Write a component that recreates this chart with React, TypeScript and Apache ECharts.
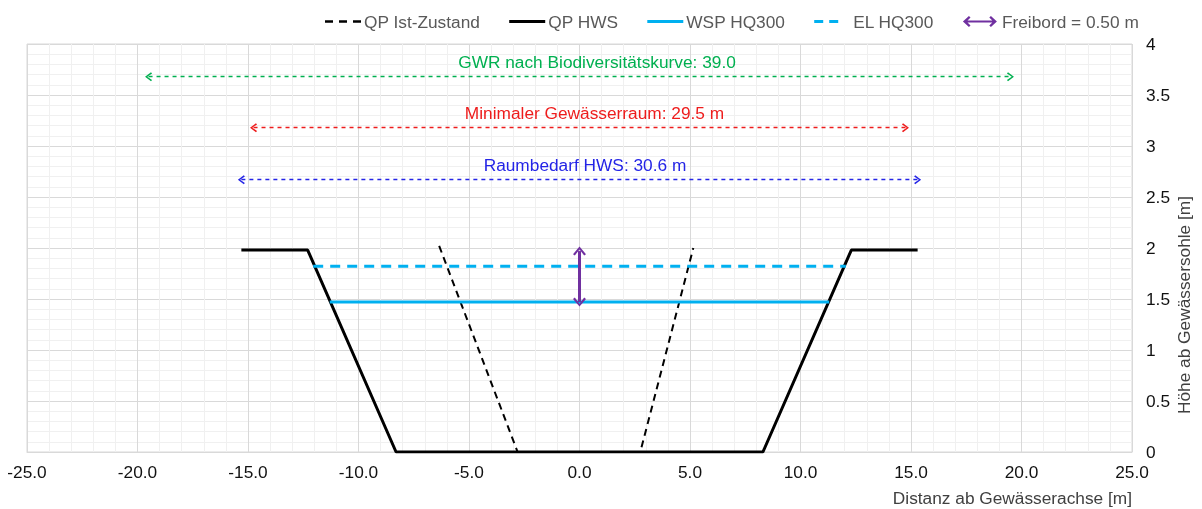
import React, { useEffect, useRef } from "react";
import * as echarts from "echarts";

// ---- data ----
const istX = [-6.35, -2.8, 2.75, 5.15];
const istY = [2.02, 0, 0, 2.0];
const hwsX = [-15.3, -12.3, -8.3, 8.3, 12.3, 15.3];
const hwsY = [1.98, 1.98, 0, 0, 1.98, 1.98];
const wspX = [-11.3, 11.3];
const wspY = [1.47, 1.47];
const elX = [-12.05, 12.05];
const elY = [1.82, 1.82];
const freibordX = [0, 0];
const freibordY = [1.47, 1.97];
const annLabels = [
  "GWR nach Biodiversitätskurve: 39.0",
  "Minimaler Gewässerraum: 29.5 m",
  "Raumbedarf HWS: 30.6 m",
];
const annHalfWidth = [19.5, 14.75, 15.3];
const annY = [3.68, 3.18, 2.67];
const annColors = ["#00B050", "#EE1C1C", "#2424E6"];
const legendNames = ["QP Ist-Zustand", "QP HWS", "WSP HQ300", "EL HQ300", "Freibord = 0.50 m"];

const FONT = "'Liberation Sans', Arial, sans-serif";
const FS = 17.3;
const chevron = "path://M5,0 L10,8.5 L8.6,10 L5,3.2 L1.4,10 L0,8.5 Z";
const corners = "M0,0 L0.01,0 L0,0.01 Z M36,14 L35.99,14 L36,13.99 Z ";
const iconSolid = "path://" + corners + "M0,5.5 L36,5.5 L36,8.5 L0,8.5 Z";
const iconIst =
  "path://" + corners + "M0,5.8 L8,5.8 L8,8.2 L0,8.2 Z M14,5.8 L22,5.8 L22,8.2 L14,8.2 Z M28,5.8 L36,5.8 L36,8.2 L28,8.2 Z";
const iconEl = "path://" + corners + "M0,5.5 L9,5.5 L9,8.5 L0,8.5 Z M15,5.5 L24,5.5 L24,8.5 L15,8.5 Z";
const iconArrow =
  "path://" + corners + "M0,7 L6,1.5 L7.6,3.1 L4.6,6 L29.4,6 L26.4,3.1 L28,1.5 L34,7 L28,12.5 L26.4,10.9 L29.4,8 L4.6,8 L7.6,10.9 L6,12.5 Z";
const legendIcons = [iconIst, iconSolid, iconSolid, iconEl, iconArrow];

const zip = (xs: number[], ys: number[]) => xs.map((x, i) => [x, ys[i]]);

export default function App() {
  const ref = useRef<HTMLDivElement>(null);
  useEffect(() => {
    if (!ref.current) return;
    document.body.style.margin = "0";
    document.body.style.overflow = "hidden";
    const chart = echarts.init(ref.current, undefined, { renderer: "svg" });
    const labelPad = [35, 30, 11];
    const annData = annLabels.map((lab, i) => [
      {
        coord: [-annHalfWidth[i], annY[i]],
        lineStyle: { color: annColors[i], width: 1.3, type: [4, 4] },
        itemStyle: { color: annColors[i] },
        label: {
          show: true,
          formatter: lab,
          color: annColors[i],
          position: "insideMiddleTop",
          distance: 6,
          fontSize: FS,
          fontFamily: FONT,
          padding: [0, 0, 0, labelPad[i]],
        },
      },
      { coord: [annHalfWidth[i], annY[i]] },
    ]);
    chart.setOption({
      animation: false,
      textStyle: { fontFamily: FONT },
      grid: { left: 27, right: 70, top: 44, bottom: 57, show: true, borderColor: "#d9d9d9", borderWidth: 1 },
      legend: {
        top: 8,
        left: 320,
        itemWidth: 36,
        itemHeight: 14,
        itemGap: 29,
        textStyle: { fontSize: FS, color: "#595959", fontFamily: FONT, padding: [0, 0, 0, -2] },
        data: legendNames.map((n, i) => ({
          name: n,
          icon: legendIcons[i],
          itemStyle: { borderWidth: 0 },
          lineStyle: { width: 0 },
        })),
      },
      xAxis: {
        type: "value",
        min: -25,
        max: 25,
        interval: 5,
        axisLine: { show: true, lineStyle: { color: "#d9d9d9" } },
        axisTick: { show: false },
        axisLabel: { formatter: (v: number) => v.toFixed(1), fontSize: FS, color: "#111", margin: 11, fontFamily: FONT },
        splitLine: { show: true, lineStyle: { color: "#d9d9d9" } },
        minorTick: { show: false, splitNumber: 5 },
        minorSplitLine: { show: true, lineStyle: { color: "#f0f0f0" } },
      },
      yAxis: {
        type: "value",
        position: "right",
        min: 0,
        max: 4,
        interval: 0.5,
        axisLine: { show: false },
        axisTick: { show: false },
        axisLabel: { fontSize: FS, color: "#111", margin: 14, fontFamily: FONT },
        splitLine: { show: true, lineStyle: { color: "#d9d9d9" } },
        minorTick: { show: false, splitNumber: 5 },
        minorSplitLine: { show: true, lineStyle: { color: "#f0f0f0" } },
      },
      graphic: [
        {
          type: "text",
          x: 1132,
          y: 498,
          style: {
            text: "Distanz ab Gewässerachse [m]",
            fontSize: FS,
            fill: "#404040",
            fontFamily: FONT,
            align: "right",
            verticalAlign: "middle",
          },
        },
        {
          type: "text",
          x: 1184,
          y: 305,
          rotation: Math.PI / 2,
          style: {
            text: "Höhe ab Gewässersohle [m]",
            fontSize: FS,
            fill: "#404040",
            fontFamily: FONT,
            align: "center",
            verticalAlign: "middle",
          },
        },
      ],
      series: [
        {
          name: "QP Ist-Zustand",
          type: "line",
          data: zip(istX, istY),
          symbol: "none",
          color: "#000",
          lineStyle: { color: "#000", width: 2, type: [7, 5] },
        },
        {
          name: "QP HWS",
          type: "line",
          data: zip(hwsX, hwsY),
          symbol: "none",
          color: "#000",
          lineStyle: { color: "#000", width: 3 },
        },
        {
          name: "WSP HQ300",
          type: "line",
          data: zip(wspX, wspY),
          symbol: "none",
          color: "#00B0F0",
          lineStyle: { color: "#00B0F0", width: 3 },
        },
        {
          name: "EL HQ300",
          type: "line",
          data: zip(elX, elY),
          symbol: "none",
          color: "#00B0F0",
          lineStyle: { color: "#00B0F0", width: 3, type: [10, 7] },
        },
        {
          name: "Freibord = 0.50 m",
          type: "line",
          data: [],
          symbol: "none",
          color: "#7030A0",
          markLine: {
            silent: true,
            symbol: [chevron, chevron],
            symbolSize: [13, 9],
            label: { show: false },
            lineStyle: { color: "#7030A0", width: 3, type: "solid" },
            itemStyle: { color: "#7030A0" },
            data: [[{ coord: [freibordX[0], freibordY[0]] }, { coord: [freibordX[1], freibordY[1]] }]],
          },
        },
        {
          name: "annotations",
          type: "line",
          data: [],
          symbol: "none",
          markLine: {
            silent: true,
            symbol: [chevron, chevron],
            symbolSize: [9, 7],
            data: annData,
          },
        },
      ],
    });
    return () => chart.dispose();
  }, []);
  return <div ref={ref} style={{ position: "fixed", left: 0, top: 0, width: 1202, height: 509 }} />;
}
